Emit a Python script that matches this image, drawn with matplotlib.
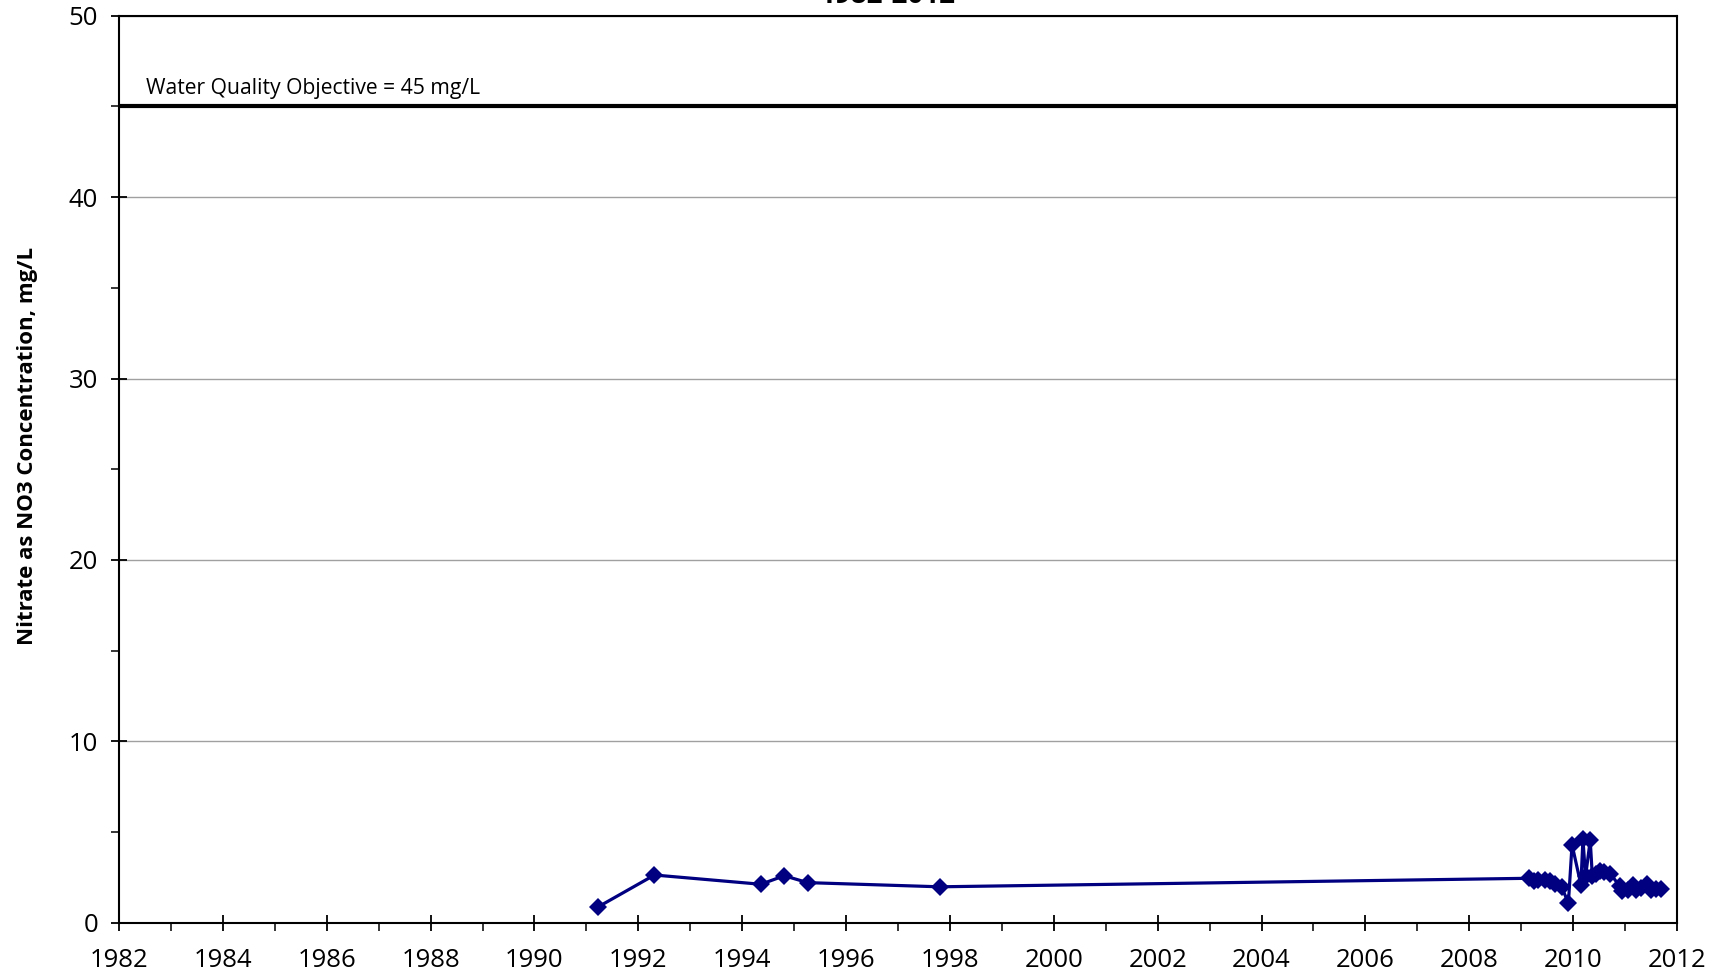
import matplotlib.pyplot as plt
from matplotlib.ticker import MultipleLocator

plt.rcParams['font.family'] = ['Open Sans', 'DejaVu Sans']

# sample dates (decimal years) and nitrate as NO3 (mg/L)
years = [1991.23, 1992.31, 1994.36, 1994.81, 1995.26, 1997.80,
         2009.16, 2009.25, 2009.33, 2009.45, 2009.55, 2009.65, 2009.78,
         2009.91, 2009.98, 2010.15, 2010.19, 2010.24, 2010.33, 2010.37,
         2010.45, 2010.52, 2010.60, 2010.72, 2010.90, 2010.95, 2011.05,
         2011.15, 2011.22, 2011.30, 2011.42, 2011.50, 2011.60, 2011.70]
nitrate = [0.88, 2.63, 2.12, 2.59, 2.21, 1.98,
           2.45, 2.30, 2.35, 2.35, 2.30, 2.15, 1.95,
           1.10, 4.30, 2.10, 4.60, 2.55, 4.55, 2.60,
           2.70, 2.85, 2.80, 2.70, 2.00, 1.75, 1.80,
           2.10, 1.80, 1.90, 2.15, 1.80, 1.85, 1.85]

wqo = 45
title = "1982-2012"

fig = plt.figure(figsize=(17.18, 9.72), dpi=100)
ax = fig.add_axes([0.0693, 0.0507, 0.9068, 0.9331])

ax.axhline(wqo, color='black', lw=3, zorder=3)
ax.text(1982.51, 45.68, f"Water Quality Objective = {wqo} mg/L", fontsize=15.2)

ax.plot(years, nitrate, color='#000080', lw=2.3, marker='D', ms=9,
        markeredgewidth=0, zorder=4)

ax.set_xlim(1982, 2012)
ax.set_ylim(0, 50)
ax.xaxis.set_major_locator(MultipleLocator(2))
ax.xaxis.set_minor_locator(MultipleLocator(1))
ax.yaxis.set_major_locator(MultipleLocator(10))
ax.yaxis.set_minor_locator(MultipleLocator(5))
ax.tick_params(which='major', direction='inout', length=12, width=1.3, labelsize=18.5)
ax.tick_params(which='minor', direction='out', length=6, width=1.1)
ax.tick_params(axis='x', which='major', pad=12)
ax.tick_params(axis='y', which='major', pad=9)
ax.grid(axis='y', which='major', color='#a0a0a0', lw=1)
ax.set_axisbelow(True)
for s in ax.spines.values():
    s.set_linewidth(1.5)

ax.set_ylabel("Nitrate as NO3 Concentration, mg/L", fontsize=16, fontweight='bold')
ax.yaxis.set_label_coords(-0.052, 0.526)

fig.text(0.5163, 0.9966, title, ha='center', va='baseline', fontsize=20,
         fontweight='bold')

fig.savefig('out.png', dpi=100)
